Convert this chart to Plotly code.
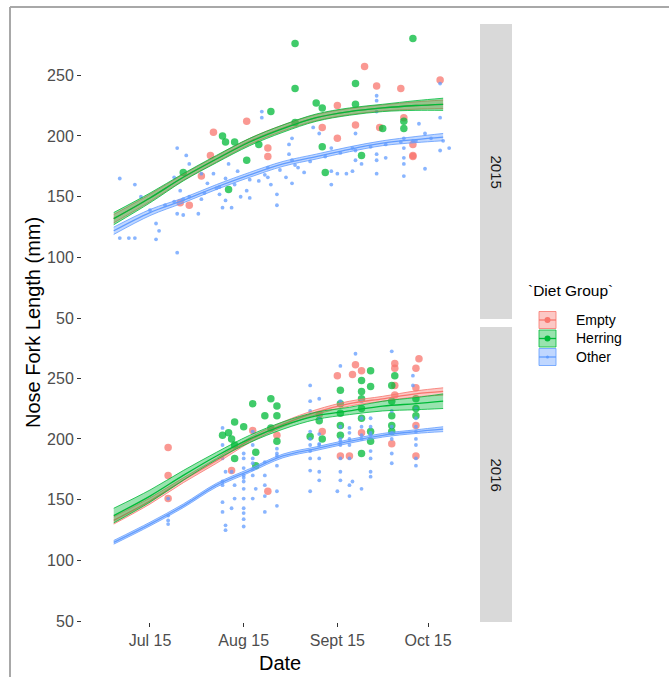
import plotly.graph_objects as go

# ---------------- data ----------------
groups = ["Empty", "Herring", "Other"]
years = ["2015", "2016"]
tick_dates = ["07-15", "08-15", "09-15", "10-15"]
tick_labels = ["Jul 15", "Aug 15", "Sept 15", "Oct 15"]
y_ticks = [50, 100, 150, 200, 250]

# 2015 points
empty15_date = ["09-24", "10-19", "09-28", "10-06", "08-16", "08-05", "09-15", "09-10", "09-21", "09-15",
                "09-29", "08-04", "08-23", "08-23", "08-01", "07-25", "07-28", "10-07", "10-10", "10-10", "10-10"]
empty15_len = [257, 246, 241, 239, 212, 203, 225, 207, 209, 198,
               207, 184, 190, 183, 167, 145, 143, 215, 193, 184, 183]

herring15_date = ["09-01", "10-10", "09-01", "09-21", "09-08", "09-10", "09-21", "08-24", "08-08", "08-09", "08-12",
                  "08-20", "09-01", "09-30", "10-07", "10-07", "09-10", "09-23", "08-16", "07-26", "09-11", "08-10"]
herring15_len = [276, 280, 239, 243, 227, 223, 226, 220, 200, 195, 195,
                 193, 211, 206, 212, 206, 191, 184, 180, 170, 170, 156]

other15_date = ["07-05", "07-10", "07-05", "07-08", "07-10", "07-17", "07-18", "07-17", "07-24", "07-24",
                "07-27", "07-23", "07-25", "07-26", "07-24", "07-26", "07-31", "08-01", "07-28", "08-01",
                "08-03", "08-05", "08-06", "08-07", "08-08", "08-11", "08-09", "08-10", "08-13", "08-16",
                "08-17", "08-21", "08-21", "08-20", "08-23", "08-23", "08-26", "08-26", "08-29", "08-31",
                "08-30", "08-31", "08-30", "09-02", "08-31", "09-07", "09-09", "09-13", "09-13", "09-15",
                "09-13", "09-18", "09-20", "09-20", "09-21", "09-21", "09-23", "09-28", "09-28", "09-28",
                "09-28", "09-28", "09-28", "10-01", "10-07", "10-07", "10-07", "10-07", "10-07", "10-10",
                "10-12", "10-14", "10-14", "10-19", "10-20", "10-19", "10-22", "10-19",
                "07-15", "07-20", "07-23", "07-28", "08-02", "08-07", "08-12", "08-17", "08-22", "08-27",
                "09-01", "09-06", "09-11", "09-16", "09-21", "09-26", "10-01", "10-06", "10-11", "10-16",
                "07-12", "08-09", "08-14", "08-24", "09-04"]
other15_len = [165, 160, 116, 116, 116, 128, 122, 115, 104, 190,
               184, 166, 155, 148, 136, 135, 136, 148, 177, 169,
               161, 169, 157, 152, 141, 141, 147, 177, 171, 155,
               149, 220, 215, 163, 174, 166, 152, 143, 166, 161,
               185, 198, 193, 174, 180, 207, 202, 190, 171, 169,
               160, 169, 171, 190, 202, 180, 177, 233, 229, 220,
               185, 180, 169, 182, 198, 190, 182, 177, 167, 196,
               210, 202, 173, 215, 196, 188, 190, 243,
               139, 143, 146, 150, 153, 158, 160, 164, 168, 172,
               176, 179, 183, 186, 188, 191, 193, 195, 196, 198,
               150, 165, 150, 160, 170]

# 2016 points
empty16_date = ["07-21", "07-21", "07-21", "08-11", "08-18", "08-23", "08-26", "09-09", "09-10", "09-15",
                "09-20", "09-21", "09-23", "09-19", "09-16", "09-23", "10-04", "10-04", "10-04", "10-04",
                "10-03", "10-11", "10-12", "10-11", "10-11", "10-11"]
empty16_len = [193, 170, 151, 174, 207, 157, 203, 220, 206, 252,
               253, 261, 256, 186, 186, 205, 262, 258, 244, 236,
               196, 258, 266, 242, 211, 186]

herring16_date = ["08-18", "08-12", "08-15", "08-08", "08-10", "08-11", "08-24", "08-26", "08-26", "08-22",
                  "08-12", "08-12", "08-19", "08-19", "08-24", "08-26", "09-06", "09-09", "09-10", "09-16",
                  "09-16", "09-16", "09-16", "09-16", "09-23", "09-23", "09-23", "09-23", "09-23", "09-23",
                  "09-26", "09-26", "09-26", "09-26", "10-03", "10-03", "10-03", "10-03", "10-03", "10-04",
                  "10-11", "10-11", "10-11"]
herring16_len = [229, 214, 210, 203, 205, 200, 233, 227, 219, 219,
                 195, 184, 189, 178, 209, 198, 202, 215, 200, 240,
                 229, 221, 211, 203, 248, 239, 233, 225, 217, 188,
                 256, 243, 206, 198, 244, 231, 219, 211, 206, 252,
                 233, 225, 219]

other16_date = ["07-21", "07-21", "07-21", "07-21",
                "08-08", "08-08", "08-08", "08-09", "08-08", "08-08", "08-08", "08-09", "08-09", "08-08",
                "08-11", "08-12", "08-12", "08-11",
                "08-15", "08-15", "08-15", "08-15", "08-15", "08-15", "08-15", "08-15", "08-15", "08-15", "08-15", "08-15",
                "08-18", "08-18", "08-18", "08-18", "08-19", "08-18", "08-18", "08-18",
                "08-22", "08-22", "08-22", "08-22", "08-22",
                "08-26", "08-26", "08-26", "08-26", "08-26", "08-26",
                "09-06", "09-06", "09-06", "09-06", "09-06", "09-06", "09-06", "09-06", "09-06", "09-06",
                "09-09", "09-09", "09-09", "09-09", "09-09", "09-09", "09-09", "09-09",
                "09-16", "09-16", "09-16", "09-16", "09-16", "09-15", "09-16", "09-16", "09-16", "09-16",
                "09-19", "09-19", "09-19", "09-19", "09-19", "09-20", "09-19", "09-19",
                "09-21", "09-23", "09-23", "09-23", "09-23", "09-23", "09-23",
                "09-26", "09-26", "09-26", "09-26", "09-26", "09-26", "09-26", "09-26",
                "10-03", "10-03", "10-03", "10-03", "10-03", "10-03", "10-03",
                "10-10", "10-10", "10-11", "10-11", "10-11", "10-11", "10-11", "10-11", "10-11", "10-11"]
other16_len = [151, 137, 133, 130,
               209, 195, 184, 173, 162, 148, 140, 129, 125, 165,
               173, 162, 151, 143,
               188, 184, 176, 168, 159, 151, 143, 139, 134, 128, 170, 165,
               206, 195, 184, 170, 159, 151, 175, 180,
               181, 170, 162, 153, 140,
               186, 178, 157, 145, 188, 192,
               244, 231, 223, 206, 195, 184, 174, 157, 190, 200,
               233, 217, 195, 184, 173, 166, 196, 204,
               260, 231, 195, 184, 173, 157, 166, 198, 200, 210,
               209, 195, 184, 162, 153, 165, 200, 205,
               270, 231, 217, 203, 159, 200, 210,
               217, 203, 190, 184, 173, 169, 205, 210,
               272, 223, 205, 188, 180, 200, 210,
               252, 244, 217, 206, 195, 184, 178, 200, 210, 225]

# fitted growth curves (smooth) with confidence half-widths
fit_date = ["07-03", "07-15", "07-26", "08-06", "08-17", "08-28", "09-08", "09-19", "09-30", "10-11", "10-20"]
fit15_empty = [132, 149, 166, 181, 195.5, 206.5, 215, 220, 223, 225, 226]
se15_empty = [3.5, 3, 2.5, 2.5, 2.5, 2.5, 2.5, 2.5, 2.5, 3, 3.5]
fit15_herring = [132, 149, 166, 181, 195, 206, 215, 220, 223, 225, 226]
se15_herring = [5, 4, 3, 3, 3, 3, 3, 3, 3, 4, 5]
fit15_other = [122, 137, 147, 158, 168, 177, 183, 189, 194, 197, 199]
se15_other = [3, 2.5, 2, 2, 2, 2, 2, 2, 2, 2.5, 3]
fit16_empty = [133, 149, 166, 182, 199, 212, 222, 229, 233, 237, 239]
se16_empty = [3, 2.5, 2, 2, 2, 2, 2, 2, 2, 2.5, 3]
fit16_herring = [137, 153, 170, 186, 200, 211, 219, 223, 227, 229, 231]
se16_herring = [6, 5, 4, 3, 3, 3, 3, 3, 4, 5, 6]
fit16_other = [115, 130, 145, 162, 174, 186, 192, 198, 203, 206, 208]
se16_other = [1.5, 1.5, 1.5, 1.5, 1.5, 1.5, 1.5, 1.5, 1.5, 1.5, 2]

# ---------------- styling ----------------
COL = {"Empty": "#F8766D", "Herring": "#00BA38", "Other": "#619CFF"}
FILL = {"Empty": "rgba(248,118,109,0.40)", "Herring": "rgba(0,186,56,0.40)", "Other": "rgba(97,156,255,0.40)"}
FONT = "Liberation Sans, Arial, sans-serif"

points = {
    "2015": {"Empty": (empty15_date, empty15_len), "Herring": (herring15_date, herring15_len),
             "Other": (other15_date, other15_len)},
    "2016": {"Empty": (empty16_date, empty16_len), "Herring": (herring16_date, herring16_len),
             "Other": (other16_date, other16_len)},
}
fits = {
    "2015": {"Empty": (fit15_empty, se15_empty), "Herring": (fit15_herring, se15_herring),
             "Other": (fit15_other, se15_other)},
    "2016": {"Empty": (fit16_empty, se16_empty), "Herring": (fit16_herring, se16_herring),
             "Other": (fit16_other, se16_other)},
}

fig = go.Figure()
axmap = {"2015": ("x", "y"), "2016": ("x2", "y2")}

for yr in years:
    xa, ya = axmap[yr]
    for g in groups:
        d, v = points[yr][g]
        fig.add_trace(go.Scatter(
            x=[f"{yr}-{s}" for s in d], y=v, mode="markers", xaxis=xa, yaxis=ya,
            marker=dict(color=COL[g], size=3.8 if g == "Other" else 7.5, opacity=0.75, line=dict(width=0)),
            hoverinfo="skip", showlegend=False))
    for g in groups:
        fv, se = fits[yr][g]
        xs = [f"{yr}-{s}" for s in fit_date]
        lo = [a - b for a, b in zip(fv, se)]
        hi = [a + b for a, b in zip(fv, se)]
        fig.add_trace(go.Scatter(x=xs, y=lo, mode="lines", xaxis=xa, yaxis=ya,
                                 line=dict(color=COL[g], width=0.8, shape="spline"),
                                 hoverinfo="skip", showlegend=False))
        fig.add_trace(go.Scatter(x=xs, y=hi, mode="lines", xaxis=xa, yaxis=ya, fill="tonexty",
                                 fillcolor=FILL[g], line=dict(color=COL[g], width=0.8, shape="spline"),
                                 hoverinfo="skip", showlegend=False))
        fig.add_trace(go.Scatter(x=xs, y=fv, mode="lines", xaxis=xa, yaxis=ya,
                                 line=dict(color=COL[g], width=1.3, shape="spline"),
                                 hoverinfo="skip", showlegend=False))

# ---------------- layout ----------------
W, H = 669, 677
L, R, T, B = 82, 192, 24, 55
PW, PH = W - L - R, H - T - B


def px(x):
    return (x - L) / PW


def py(y):
    return (H - B - y) / PH


yr_range = [49.5, 292]
yaxis_common = dict(range=yr_range, tickvals=y_ticks, ticks="outside", ticklen=4, tickwidth=1.3,
                    tickcolor="#333333", tickfont=dict(family=FONT, size=16, color="#4D4D4D"),
                    showgrid=False, zeroline=False, showline=False)

fig.update_layout(
    width=W, height=H, margin=dict(l=L, r=R, t=T, b=B),
    paper_bgcolor="white", plot_bgcolor="white", showlegend=False,
    xaxis=dict(domain=[0, 1], anchor="y", range=["2015-06-22 12:00", "2015-10-31 05:00"],
               showticklabels=False, ticks="", showgrid=False, zeroline=False, showline=False),
    yaxis=dict(domain=[py(319), 1], anchor="x", **yaxis_common),
    xaxis2=dict(domain=[0, 1], anchor="y2", range=["2016-06-22 12:00", "2016-10-31 05:00"],
                tickvals=[f"2016-{s}" for s in tick_dates], ticktext=tick_labels,
                ticks="outside", ticklen=4, tickwidth=1.3, tickcolor="#333333",
                tickfont=dict(family=FONT, size=16, color="#4D4D4D"),
                showgrid=False, zeroline=False, showline=False),
    yaxis2=dict(domain=[0, py(327)], anchor="x2", **yaxis_common),
)

shapes = []
annotations = []
# facet strips
for yr, (top, bot) in zip(years, [(24, 319), (327, 622)]):
    shapes.append(dict(type="rect", xref="paper", yref="paper", x0=px(480), x1=px(512), y0=py(bot), y1=py(top),
                       fillcolor="#D9D9D9", line=dict(width=0), layer="below"))
    annotations.append(dict(text=yr, xref="paper", yref="paper", x=px(496), y=py((top + bot) / 2),
                            showarrow=False, textangle=90, font=dict(family=FONT, size=15, color="#1A1A1A"),
                            xanchor="center", yanchor="middle"))
# outer frame
shapes.append(dict(type="line", xref="paper", yref="paper", x0=px(10), x1=px(669), y0=py(7), y1=py(7),
                   line=dict(color="#A8A8A8", width=2)))
shapes.append(dict(type="line", xref="paper", yref="paper", x0=px(10), x1=px(10), y0=py(7), y1=py(677),
                   line=dict(color="#A8A8A8", width=2)))

# axis titles
annotations.append(dict(text="Nose Fork Length (mm)", xref="paper", yref="paper", x=px(33), y=py(323),
                        showarrow=False, textangle=-90, font=dict(family=FONT, size=20, color="black"),
                        xanchor="center", yanchor="middle"))
annotations.append(dict(text="Date", xref="paper", yref="paper", x=px(280), y=py(663),
                        showarrow=False, font=dict(family=FONT, size=20, color="black"),
                        xanchor="center", yanchor="middle"))

# legend (drawn manually, ggplot style)
annotations.append(dict(text="`Diet Group`", xref="paper", yref="paper", x=px(526), y=py(290),
                        showarrow=False, font=dict(family=FONT, size=15.5, color="black"),
                        xanchor="left", yanchor="middle"))
for i, g in enumerate(groups):
    cy = 320 + i * 18.5
    shapes.append(dict(type="rect", xref="paper", yref="paper", x0=px(539), x1=px(556),
                       y0=py(cy + 8.5), y1=py(cy - 8.5), fillcolor=FILL[g],
                       line=dict(color=COL[g], width=0.8)))
    shapes.append(dict(type="line", xref="paper", yref="paper", x0=px(539), x1=px(556),
                       y0=py(cy), y1=py(cy), line=dict(color=COL[g], width=1.3)))
    r = 1.5 if g == "Other" else 3
    shapes.append(dict(type="circle", xref="paper", yref="paper", x0=px(547.5 - r), x1=px(547.5 + r),
                       y0=py(cy + r), y1=py(cy - r), fillcolor=COL[g], line=dict(width=0)))
    annotations.append(dict(text=g, xref="paper", yref="paper", x=px(574), y=py(cy),
                            showarrow=False, font=dict(family=FONT, size=14, color="black"),
                            xanchor="left", yanchor="middle"))

fig.update_layout(shapes=shapes, annotations=annotations)
fig.write_html("out.html")
